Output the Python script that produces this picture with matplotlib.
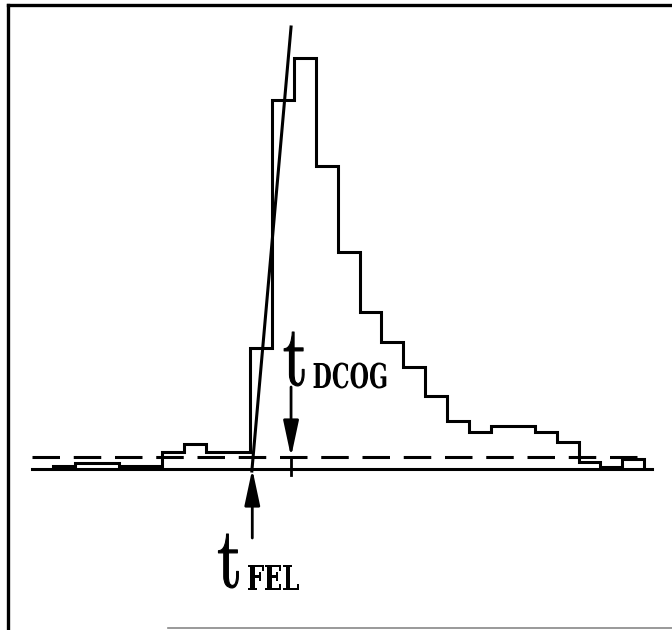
import numpy as np
import matplotlib
matplotlib.use('Agg')
import matplotlib.pyplot as plt
from matplotlib.lines import Line2D
from matplotlib.patheffects import AbstractPathEffect
from matplotlib.transforms import Affine2D

# Hit-time histogram, one bin per time channel
COUNTS = [3, 6, 6, 3, 3, 17, 25, 17, 17, 121, 369, 411, 303, 217, 157,
          127, 102, 73, 48, 37, 43, 43, 37, 27, 7, 2, 10]
EDGES = np.arange(len(COUNTS) + 1)

# discriminator threshold (dashed) and the two timing marks
THRESHOLD = 12
T_FEL = 9.1
T_DCOG = 10.87

# straight-line fit to the leading edge
FIT_X = [9.08, 10.87]
FIT_Y = [-2, 442]

# extent of the base and threshold lines
LINE_START = -0.96
BASE_END = 27.35
DASH_END = 27.0


class Squeeze(AbstractPathEffect):
    '''Draw text squeezed horizontally, optionally with a thickening edge.'''

    def __init__(self, sx, edge=0):
        super().__init__()
        self.sx = sx
        self.edge = edge

    def draw_path(self, renderer, gc, tpath, affine, rgbFace=None):
        gc0 = renderer.new_gc()
        gc0.copy_properties(gc)
        gc0.set_linewidth(self.edge)
        gc0.set_foreground('black')
        renderer.draw_path(gc0, tpath, Affine2D().scale(self.sx, 1) + affine,
                           rgbFace)
        gc0.restore()


def label(ax, x, y, sub, squeeze):
    '''Big "t" with a bold narrow subscript, left edge at x, baseline y.'''
    ax.text(x, y, 't', family='cmr10', fontsize=62,
            ha='left', va='baseline', path_effects=[Squeeze(0.74, 0.8)])
    ax.text(x + 1.35, y - 3, sub, family='DejaVu Serif', weight='bold',
            fontsize=24.7, ha='left', va='baseline',
            path_effects=[Squeeze(squeeze)])


def main():
    fig = plt.figure(figsize=(6.72, 6.30), dpi=100)
    ax = fig.add_axes([0, 0, 1, 1])
    ax.set_xlim(-2.42, 28.265)
    ax.set_ylim(-161, 469)
    ax.axis('off')

    ax.stairs(COUNTS, EDGES, baseline=0, color='black', lw=2.2)
    ax.plot([LINE_START, BASE_END], [0, 0], color='black', lw=2.2)
    ax.plot([LINE_START, DASH_END], [THRESHOLD, THRESHOLD], color='black',
            lw=2.2, dashes=(9, 4.5))
    ax.plot(FIT_X, FIT_Y, color='black', lw=2.2)

    head = '-|>,head_length=2.2,head_width=0.47'
    ax.annotate('', xy=(T_FEL, 0), xytext=(T_FEL, -69),
                arrowprops=dict(arrowstyle=head, mutation_scale=10,
                                color='black', lw=2, shrinkA=0, shrinkB=0))
    ax.annotate('', xy=(T_DCOG, THRESHOLD), xytext=(T_DCOG, 82),
                arrowprops=dict(arrowstyle=head, mutation_scale=10,
                                color='black', lw=2, shrinkA=0, shrinkB=0))
    ax.plot([T_DCOG, T_DCOG], [THRESHOLD, -6], color='black', lw=2)

    label(ax, T_DCOG - 0.37, 84, 'DCOG', 0.65)
    label(ax, T_FEL - 1.6, -118, 'FEL', 0.7)

    # scanned frame: left, top and a faint bottom edge
    fig.add_artist(Line2D([0.012, 0.012], [0.003, 0.992], color='black',
                          lw=2.4, transform=fig.transFigure))
    fig.add_artist(Line2D([0.012, 1.0], [0.992, 0.992], color='black',
                          lw=2.4, transform=fig.transFigure))
    fig.add_artist(Line2D([0.25, 1.0], [0.003, 0.003], color='#888888',
                          lw=1.2, transform=fig.transFigure))

    fig.savefig('out.png', dpi=100)


if __name__ == '__main__':
    main()
